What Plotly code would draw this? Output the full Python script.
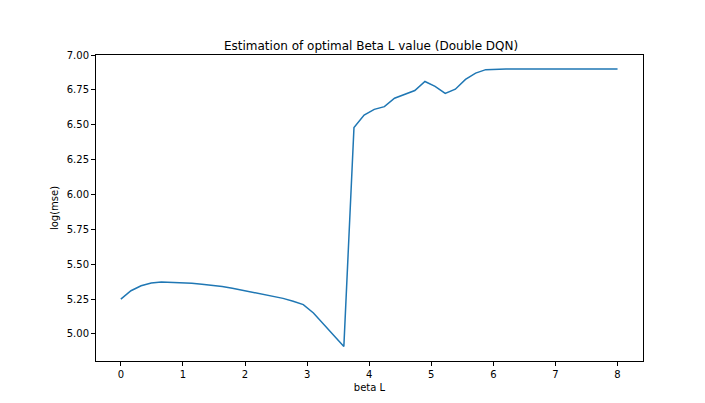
import numpy as np
import plotly.graph_objects as go

# log(mse) for each beta L (50 evenly spaced values from 0 to 8)
log_mse = [5.25, 5.31, 5.345, 5.365, 5.372, 5.37, 5.367, 5.363, 5.357, 5.35,
           5.34, 5.328, 5.314, 5.299, 5.284, 5.27, 5.255, 5.235, 5.21, 5.15,
           5.07, 4.99, 4.91, 6.48, 6.57, 6.61, 6.63, 6.69, 6.72, 6.745,
           6.81, 6.775, 6.725, 6.755, 6.825, 6.87, 6.895, 6.9, 6.9, 6.9,
           6.9, 6.9, 6.9, 6.9, 6.9, 6.9, 6.9, 6.9, 6.9, 6.9]
beta_l = np.linspace(0, 8, len(log_mse))

fig = go.Figure(go.Scatter(x=beta_l, y=log_mse, mode="lines",
                           line=dict(color="#1f77b4", width=1.5)))

axis_style = dict(showline=True, linecolor="black", mirror=True, ticks="outside",
                  ticklen=4, tickcolor="black", showgrid=False, zeroline=False,
                  automargin=False, tickfont=dict(size=10, color="black"))
fig.update_xaxes(axis_style, range=[-0.4, 8.41], dtick=1,
                 title=dict(text="beta L", font=dict(size=10, color="black"), standoff=4))
fig.update_yaxes(axis_style, range=[4.806, 7.0], tickvals=[5, 5.25, 5.5, 5.75, 6, 6.25, 6.5, 6.75, 7],
                 tickformat=".2f",
                 title=dict(text="log(mse)", font=dict(size=10, color="black"), standoff=6))

fig.update_layout(
    width=705, height=403,
    margin=dict(l=88, r=70, t=47, b=50, autoexpand=False),
    paper_bgcolor="white", plot_bgcolor="white",
    font=dict(family="DejaVu Sans"),
    title=dict(text="Estimation of optimal Beta L value (Double DQN)",
               x=0.515, xanchor="center", y=0.895, yanchor="bottom",
               font=dict(size=12, color="black")),
    showlegend=False,
)

fig.write_html("out.html")
